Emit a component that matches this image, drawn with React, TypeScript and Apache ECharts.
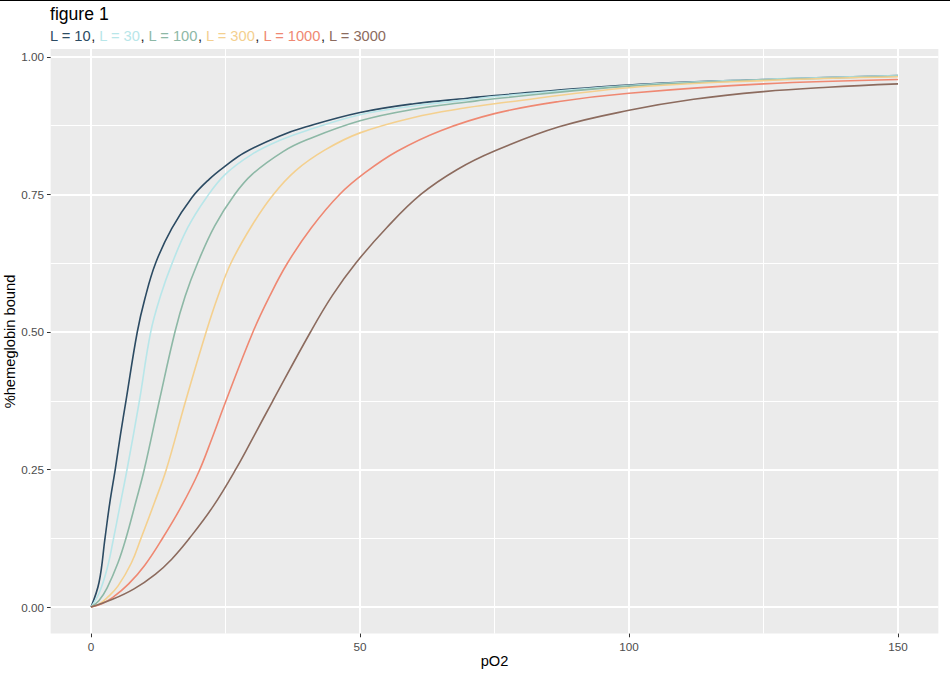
import React, { useEffect, useRef } from "react";
import * as echarts from "echarts";

// Curves: [pO2, fraction of hemoglobin bound]
const curveL10 = [
  [0, 0], [1.5, 0.045], [2.6, 0.125], [3.5, 0.19], [4.5, 0.25], [5.5, 0.315], [6.5, 0.375],
  [8.6, 0.5], [10, 0.56], [12, 0.625], [15, 0.688], [18.8, 0.745], [22, 0.778], [25, 0.802],
  [28.5, 0.826], [35, 0.856], [40, 0.873], [50, 0.899], [60, 0.915], [70, 0.925], [75, 0.93],
  [100, 0.949], [125, 0.959], [150, 0.966],
];
const curveL30 = [
  [0, 0], [1.5, 0.025], [3, 0.07], [4.2, 0.125], [5.5, 0.19], [6.7, 0.25], [9, 0.375],
  [11.1, 0.5], [13, 0.568], [15, 0.623], [18, 0.69], [21.5, 0.745], [25, 0.787], [29.9, 0.823],
  [35, 0.848], [40, 0.866], [50, 0.895], [60, 0.911], [70, 0.922], [75, 0.928],
  [100, 0.948], [125, 0.959], [150, 0.966],
];
const curveL100 = [
  [0, 0], [1.5, 0.012], [3, 0.035], [5, 0.08], [6.5, 0.125], [8.3, 0.19], [9.9, 0.25],
  [12.7, 0.375], [15.6, 0.5], [17.5, 0.565], [19.8, 0.625], [23, 0.693], [26.7, 0.75],
  [30, 0.787], [35.7, 0.828], [40, 0.849], [50, 0.884], [60, 0.905], [70, 0.918], [75, 0.924],
  [100, 0.947], [125, 0.958], [150, 0.965],
];
const curveL300 = [
  [0, 0], [1.5, 0.005], [3, 0.017], [5, 0.038], [7.5, 0.08], [9.3, 0.125], [11.8, 0.19],
  [14, 0.25], [17.6, 0.375], [21.4, 0.5], [23.6, 0.565], [26, 0.625], [30, 0.695], [33.9, 0.75],
  [38, 0.793], [43.5, 0.831], [50, 0.862], [60, 0.89], [70, 0.908], [75, 0.915],
  [100, 0.944], [125, 0.957], [150, 0.964],
];
const curveL1000 = [
  [0, 0], [2, 0.006], [4, 0.017], [7, 0.042], [10, 0.076], [13.3, 0.125], [16.8, 0.183],
  [20, 0.245], [22.5, 0.307], [24.9, 0.37], [30.1, 0.5], [33.2, 0.565], [36.5, 0.625],
  [41, 0.69], [46.2, 0.75], [51, 0.79], [57, 0.829], [65, 0.866], [75, 0.897], [87, 0.919],
  [100, 0.934], [125, 0.951], [150, 0.959],
];
const curveL3000 = [
  [0, 0], [4, 0.014], [8, 0.033], [12, 0.06], [15, 0.087], [18.3, 0.125], [22.7, 0.183],
  [27, 0.252], [30.5, 0.315], [33.8, 0.375], [40.8, 0.5], [44.9, 0.567], [49.2, 0.625],
  [55, 0.69], [61.3, 0.75], [68, 0.795], [75, 0.829], [87, 0.873], [100, 0.903], [112, 0.923],
  [125, 0.937], [137, 0.945], [150, 0.951],
];

const seriesNames = ["L = 10", "L = 30", "L = 100", "L = 300", "L = 1000", "L = 3000"];
const seriesColors = ["#2C4B63", "#B8E6E9", "#8DB8A6", "#F4D08F", "#EF8872", "#8C6B5E"];
const curves = [curveL10, curveL30, curveL100, curveL300, curveL1000, curveL3000];

const xTicks = [0, 50, 100, 150];
const xMinorTicks = [25, 75, 125];
const yTicks = [0, 0.25, 0.5, 0.75, 1];
const yMinorTicks = [0.125, 0.375, 0.625, 0.875];

const titleText = "figure 1";
const xTitle = "pO2";
const yTitle = "%hemeglobin bound";

const FONT = "'Liberation Sans', Arial, Helvetica, sans-serif";

export default function App() {
  const ref = useRef<HTMLDivElement>(null);

  useEffect(() => {
    document.body.style.margin = "0";
    const chart = echarts.init(ref.current!, null, { renderer: "svg" });

    const rich: Record<string, any> = {
      c: { color: "#1A1A1A", fontSize: 14.67, fontFamily: FONT },
    };
    seriesNames.forEach((n, i) => {
      rich["s" + i] = { color: seriesColors[i], fontSize: 14.67, fontFamily: FONT };
    });
    const subtitle = seriesNames.map((n, i) => `{s${i}|${n}}`).join("{c|, }");

    const xMin = -7.5;
    const xMax = 157.5;
    const yMin = -0.0483;
    const yMax = 1.0143;

    const tickLabel = { color: "#4D4D4D", fontSize: 11.7, fontFamily: FONT };

    chart.setOption({
      animation: false,
      backgroundColor: "#FFFFFF",
      textStyle: { fontFamily: FONT },
      graphic: [
        { type: "rect", shape: { x: 0, y: 0, width: 950, height: 1 }, style: { fill: "#000" }, silent: true },
        {
          type: "text",
          x: 494.5,
          y: 661,
          silent: true,
          style: { text: xTitle, align: "center", verticalAlign: "middle", fill: "#000", fontSize: 14.67, fontFamily: FONT },
        },
        {
          type: "text",
          x: 10,
          y: 341.5,
          rotation: Math.PI / 2,
          silent: true,
          style: { text: yTitle, align: "center", verticalAlign: "middle", fill: "#000", fontSize: 14.67, fontFamily: FONT },
        },
      ],
      title: [
        {
          text: titleText,
          left: 50,
          top: 5,
          padding: 0,
          textStyle: { fontSize: 17.6, fontWeight: "normal", color: "#000", fontFamily: FONT },
        },
        {
          text: subtitle,
          left: 50,
          top: 28,
          padding: 0,
          textStyle: { fontSize: 14.67, fontWeight: "normal", color: "#1A1A1A", fontFamily: FONT, rich },
        },
      ],
      grid: {
        left: 50.65,
        right: 11.65,
        top: 49.1,
        bottom: 41.4,
        show: true,
        backgroundColor: "#EBEBEB",
        borderWidth: 0,
        containLabel: false,
        outerBoundsMode: "none",
      },
      xAxis: [
        {
          type: "value",
          min: xMin,
          max: xMax,
          position: "bottom",
          axisLine: { show: false, onZero: false },
          axisTick: { show: true, customValues: xTicks, length: 3.67, lineStyle: { color: "#333333", width: 1 } },
          axisLabel: { customValues: xTicks, margin: 6.6, ...tickLabel, formatter: (v: number) => String(v) },
          splitLine: { show: true, lineStyle: { color: "#FFFFFF", width: 2 } },
          z: 1,
        },
        {
          type: "value",
          min: xMin,
          max: xMax,
          position: "top",
          axisLine: { show: false, onZero: false },
          axisTick: { show: false, customValues: xMinorTicks },
          axisLabel: { show: false, customValues: xMinorTicks },
          splitLine: { show: true, lineStyle: { color: "#FFFFFF", width: 1 } },
          z: 0,
        },
      ],
      yAxis: [
        {
          type: "value",
          min: yMin,
          max: yMax,
          position: "left",
          axisLine: { show: false, onZero: false },
          axisTick: { show: true, customValues: yTicks, length: 3.67, lineStyle: { color: "#333333", width: 1 } },
          axisLabel: { customValues: yTicks, margin: 6.6, ...tickLabel, formatter: (v: number) => v.toFixed(2) },
          splitLine: { show: true, lineStyle: { color: "#FFFFFF", width: 2 } },
          z: 1,
        },
        {
          type: "value",
          min: yMin,
          max: yMax,
          position: "right",
          axisLine: { show: false, onZero: false },
          axisTick: { show: false, customValues: yMinorTicks },
          axisLabel: { show: false, customValues: yMinorTicks },
          splitLine: { show: true, lineStyle: { color: "#FFFFFF", width: 1 } },
          z: 0,
        },
      ],
      series: curves.map((data, i) => ({
        name: seriesNames[i],
        type: "line",
        xAxisIndex: 0,
        yAxisIndex: 0,
        data,
        showSymbol: false,
        symbol: "none",
        smooth: 0.4,
        lineStyle: { color: seriesColors[i], width: 1.6 },
        itemStyle: { color: seriesColors[i] },
        emphasis: { disabled: true },
        silent: true,
        z: 3,
      })),
    });

    return () => chart.dispose();
  }, []);

  return <div ref={ref} style={{ width: 950, height: 675 }} />;
}
